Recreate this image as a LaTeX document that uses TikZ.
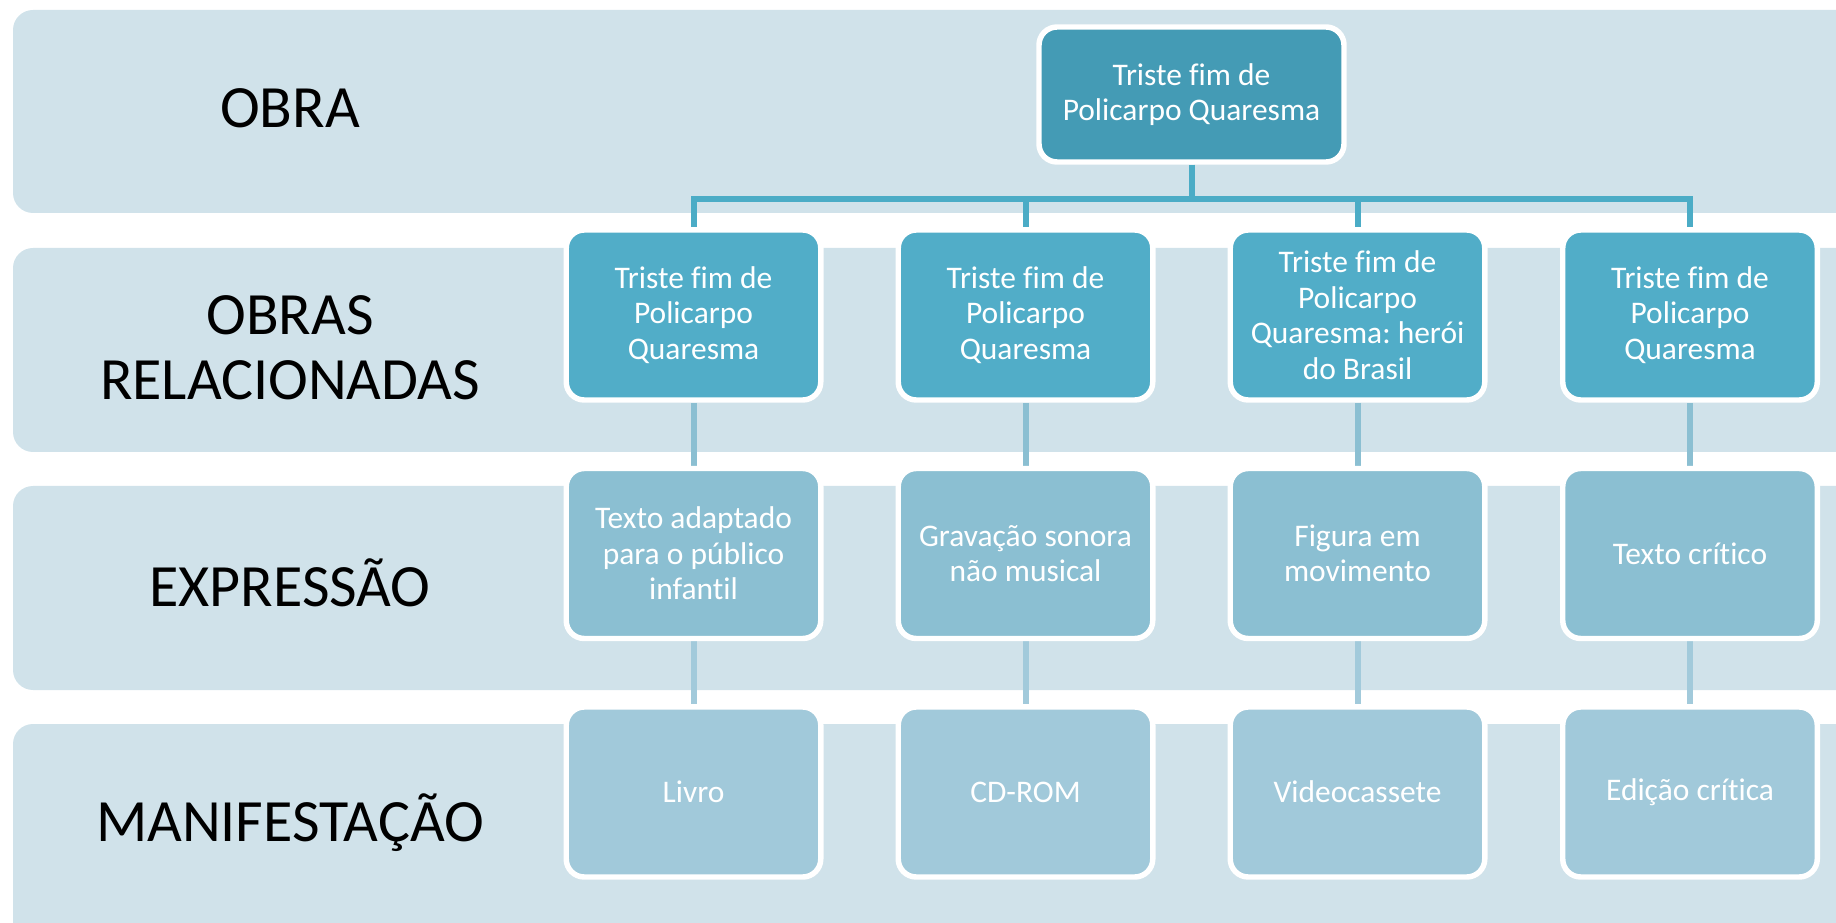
\documentclass[tikz,border=0pt]{standalone}
\usepackage{fontspec}
\setmainfont{Carlito}[Ligatures=NoCommon]
\frenchspacing
\usetikzlibrary{positioning}

\definecolor{bandfill}{HTML}{D0E2EA}
\definecolor{workfill}{HTML}{449BB5}
\definecolor{relfill}{HTML}{51ADC8}
\definecolor{exprfill}{HTML}{8BBFD2}
\definecolor{manifill}{HTML}{A1C9DA}
\definecolor{linktop}{HTML}{4BACC6}
\definecolor{linkmid}{HTML}{8BBFD2}
\definecolor{linklow}{HTML}{A2CADB}

\pgfdeclarelayer{bands}
\pgfdeclarelayer{links}
\pgfsetlayers{bands,links,main}

\tikzset{
  band/.style={fill=bandfill, draw=none, rounded corners=15pt},
  cell/.style={rectangle, rounded corners=13.5pt, draw=white, line width=4.1pt,
    minimum width=190.9pt, minimum height=127.5pt, inner sep=0pt,
    text=white, align=center, font=\fontsize{23.6}{26.6}\selectfont},
  workcell/.style={cell, fill=workfill, minimum width=228.75pt, minimum height=101.25pt},
  relcell/.style={cell, fill=relfill},
  exprcell/.style={cell, fill=exprfill},
  manicell/.style={cell, fill=manifill},
  levellabel/.style={inner sep=0pt, text=black, align=center,
    font=\fontsize{45}{48.75}\selectfont},
  linkbase/.style={line width=4.5pt},
}

\begin{document}
\begin{tikzpicture}[x=0.75pt, y=-0.75pt]
\useasboundingbox (0,0) rectangle (1836,923);
\clip (0,0) rectangle (1836,923);

% horizontal level bands
\begin{pgfonlayer}{bands}
  \fill[band] (13,10)  rectangle (1880,213);
  \fill[band] (13,248) rectangle (1880,452);
  \fill[band] (13,486) rectangle (1880,690);
  \fill[band] (13,724) rectangle (1880,960);
\end{pgfonlayer}

% level names
\node[levellabel, anchor=base] (lobra) at (290,128) {OBRA};
\node[levellabel] (lrel) at (290,348) {OBRAS\\RELACIONADAS};
\node[levellabel, anchor=base] (lexpr) at (290,606) {EXPRESSÃO};
\node[levellabel, anchor=base] (lmani) at (290,841) {MANIFESTAÇÃO};

% the work
\node[workcell] (work) at (1191.5,94.5) {Triste fim de\\Policarpo Quaresma};

% related works
\node[relcell] (r1) at (693.5,315) {Triste fim de\\Policarpo\\Quaresma};
\node[relcell] (r2) at (1025.5,315) {Triste fim de\\Policarpo\\Quaresma};
\node[relcell] (r3) at (1357.5,315) {Triste fim de\\Policarpo\\Quaresma: herói\\do Brasil};
\node[relcell] (r4) at (1690,315) {Triste fim de\\Policarpo\\Quaresma};

% expressions
\node[exprcell] (e1) at (693.5,553.5) {Texto adaptado\\para o público\\infantil};
\node[exprcell] (e2) at (1025.5,553.5) {Gravação sonora\\não musical};
\node[exprcell] (e3) at (1357.5,553.5) {Figura em\\movimento};
\node[exprcell] (e4) at (1690,553.5) {Texto crítico};

% manifestations
\node[manicell] (m1) at (693.5,792) {Livro};
\node[manicell] (m2) at (1025.5,792) {CD-ROM};
\node[manicell] (m3) at (1357.5,792) {Videocassete};
\node[manicell] (m4) at (1690,792) {Edição crítica};

% connectors
\begin{pgfonlayer}{links}
  \foreach \c in {r1,r2,r3,r4}
    \draw[linkbase, draw=linktop] (work.south) -- ++(0,34) -| (\c.north);
  \foreach \i in {1,2,3,4} {
    \draw[linkbase, draw=linkmid] (r\i.south) -- (e\i.north);
    \draw[linkbase, draw=linklow] (e\i.south) -- (m\i.north);
  }
\end{pgfonlayer}
\end{tikzpicture}
\end{document}
